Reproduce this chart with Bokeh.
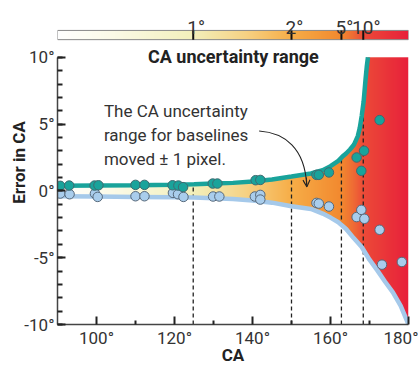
import numpy as np
from bokeh.plotting import figure
from bokeh.models import FixedTicker, Arrow, OpenHead, Range1d
from bokeh.core.properties import value
from bokeh.embed import file_html
from bokeh.resources import INLINE

# ---------------- data ----------------
upper_ca = [90, 100, 110, 120, 125, 130, 135, 140, 145, 150, 155, 158, 160, 162, 163,
            164, 165, 166, 167, 167.5, 168, 168.5, 169, 169.3, 169.6]
upper_err = [0.38, 0.4, 0.42, 0.46, 0.5, 0.55, 0.6, 0.7, 0.85, 1.07, 1.3, 1.55, 1.85, 2.25, 2.55,
             2.8, 3.1, 3.45, 4.1, 4.7, 5.6, 6.7, 8.4, 9.3, 10.0]
lower_ca = [90, 100, 110, 120, 125, 130, 135, 140, 145, 150, 155, 158, 160, 162, 164,
            166, 168, 170, 172, 174, 176, 178, 180]
lower_err = [-0.4, -0.42, -0.45, -0.48, -0.5, -0.55, -0.6, -0.72, -0.88, -1.15, -1.35, -1.7, -2.0, -2.35, -2.85,
             -3.55, -4.2, -5.15, -5.95, -6.8, -7.6, -8.6, -10.0]

upper_pts_ca = [90.7, 93.0, 99.5, 100.5, 110.0, 112.3, 119.5, 121.0, 122.2, 129.8, 131.0,
                140.8, 142.0, 156.4, 157.0, 159.6, 166.7, 167.9, 168.6, 172.6]
upper_pts_err = [0.38, 0.4, 0.4, 0.42, 0.45, 0.45, 0.42, 0.4, 0.28, 0.55, 0.55,
                 0.8, 0.82, 1.2, 1.2, 1.38, 2.5, 1.5, 3.0, 5.3]
lower_pts_ca = [90.7, 93.1, 99.6, 100.3, 110.0, 112.3, 119.6, 120.9, 122.3, 129.9, 131.5,
                140.6, 142.0, 142.0, 156.4, 157.0, 159.6, 166.7, 167.9, 168.7, 172.6, 173.2, 178.3]
lower_pts_err = [-0.2, -0.25, -0.2, -0.45, -0.4, -0.4, -0.15, -0.25, -0.45, -0.42, -0.42,
                 -0.42, -0.3, -0.65, -0.9, -0.95, -1.17, -1.96, -1.42, -2.09, -2.91, -5.52, -5.32]

range_labels = ["1°", "2°", "5°", "10°"]
range_ca = [124.8, 150.0, 162.8, 168.4]
range_top_err = [0.52, 1.07, 2.5, 6.3]

x_ticks = [100, 120, 140, 160, 180]
x_minor = [110, 130, 150, 170]
y_ticks = [-10, -5, 0, 5, 10]
y_minor = list(range(-10, 11))

note_lines = ["The CA uncertainty", "range for baselines", "moved ± 1 pixel."]

# ---------------- styles ----------------
FONT = "Roboto"
TEAL = "#19a39b"
BLUE = "#a5c9ea"
grad_stops = [(90, "#ffffff"), (105, "#fbfae6"), (124.8, "#f3f0bb"), (138, "#f6d386"),
              (150, "#f7ae48"), (162.8, "#f2892f"), (166, "#ef6a35"), (168.4, "#ec4b38"),
              (180, "#e8203b")]

def grad_rgb(xs):
    sx = [s[0] for s in grad_stops]
    rgb = np.array([[int(c[i:i + 2], 16) for i in (1, 3, 5)] for _, c in grad_stops], dtype=float)
    return np.stack([np.interp(xs, sx, rgb[:, k]) for k in range(3)], axis=1)

X0, X1 = 90, 180
Y0, Y1 = -10, 10
YTOP = 14.25

p = figure(width=418, height=367, x_range=Range1d(X0, X1), y_range=Range1d(Y0, YTOP),
           output_backend="svg", toolbar_location=None,
           min_border_left=57, min_border_right=10, min_border_top=0, min_border_bottom=42)
p.outline_line_color = None
p.xgrid.visible = False
p.ygrid.visible = False
p.background_fill_color = "white"

# gradient fill between curves
nx, ny = 704, 536
xs = X0 + (np.arange(nx) + 0.5) * (X1 - X0) / nx
ys = Y0 + (np.arange(ny) + 0.5) * (Y1 - Y0) / ny
top = np.minimum(np.interp(xs, upper_ca, upper_err), Y1)
bot = np.interp(xs, lower_ca, lower_err)
mask = (ys[:, None] >= bot[None, :]) & (ys[:, None] <= top[None, :])
rgb = grad_rgb(xs)
img = np.zeros((ny, nx), dtype=np.uint32)
v = img.view(dtype=np.uint8).reshape((ny, nx, 4))
v[..., 0] = rgb[:, 0][None, :]
v[..., 1] = rgb[:, 1][None, :]
v[..., 2] = rgb[:, 2][None, :]
v[..., 3] = (mask * 255).astype(np.uint8)
p.image_rgba(image=[img], x=X0, y=Y0, dw=X1 - X0, dh=Y1 - Y0)

# colour bar
CB_B, CB_T = 11.32, 12.01
cimg = np.zeros((1, nx), dtype=np.uint32)
cv = cimg.view(dtype=np.uint8).reshape((1, nx, 4))
cv[0, :, 0] = rgb[:, 0]
cv[0, :, 1] = rgb[:, 1]
cv[0, :, 2] = rgb[:, 2]
cv[0, :, 3] = 255
p.image_rgba(image=[cimg], x=X0, y=CB_B, dw=X1 - X0, dh=CB_T - CB_B)
p.quad(left=[X0], right=[X1], bottom=[CB_B], top=[CB_T], fill_color=None,
       line_color="#888888", line_width=1)
p.segment(x0=range_ca, x1=range_ca, y0=[CB_B] * 4, y1=[CB_T] * 4, line_color="#111111", line_width=2)
p.text(x=range_ca, y=[CB_T] * 4, text=range_labels, text_align="center", text_baseline="alphabetic",
       x_offset=3, y_offset=-3, text_font=value(FONT), text_font_size="19px", text_color="#333333")
p.text(x=[135.1], y=[10.07], text=["CA uncertainty range"], text_align="center",
       text_baseline="alphabetic", text_font=value(FONT), text_font_style="bold",
       text_font_size="18px", text_color="#222222")

# dashed verticals
p.segment(x0=range_ca, x1=range_ca, y0=[Y0] * 4, y1=range_top_err, line_color="#222222",
          line_width=1.3, line_dash="4 3")

# curves
p.line(lower_ca, lower_err, line_color=BLUE, line_width=4.5)
p.line(upper_ca, upper_err, line_color=TEAL, line_width=4.5)

# points
p.scatter(lower_pts_ca, lower_pts_err, size=9.5, fill_color="#a9cdec", line_color="#56687a", line_width=1)
p.scatter(upper_pts_ca, upper_pts_err, size=9.5, fill_color=TEAL, line_color="#3f6a70", line_width=1)

# note text + arrow
note_x = [101.9] * 3
note_y = [5.99, 4.18, 2.37]
p.text(x=note_x, y=note_y, text=note_lines, text_align="left", text_baseline="alphabetic",
       text_font=value(FONT), text_font_size="17px", text_color="#333333")
p.bezier(x0=[141.7], y0=[4.48], x1=[153.9], y1=[0.45], cx0=[148.3], cy0=[4.35],
         cx1=[153.4], cy1=[3.2], line_color="#222222", line_width=1.1)
p.add_layout(Arrow(end=OpenHead(size=7, line_width=1.1, line_color="#222222"),
                   x_start=153.8, y_start=1.0, x_end=153.95, y_end=0.3,
                   line_color="#222222", line_width=1.1))

# axes
xa = p.xaxis[0]
xa.ticker = FixedTicker(ticks=x_ticks, minor_ticks=x_minor)
xa.major_label_overrides = {t: f"{t}°" for t in x_ticks}
xa.axis_label = "CA"
ya = p.yaxis[0]
ya.ticker = FixedTicker(ticks=y_ticks, minor_ticks=y_minor)
ya.major_label_overrides = {t: f"{t}°" for t in y_ticks}
ya.bounds = (Y0, Y1)
ya.axis_label = "Error in CA"
for ax in (xa, ya):
    ax.major_tick_in = 8
    ax.major_tick_out = 0
    ax.minor_tick_in = 4
    ax.minor_tick_out = 0
    ax.major_tick_line_width = 2
    ax.minor_tick_line_width = 2
    ax.major_tick_line_color = "#222222"
    ax.minor_tick_line_color = "#222222"
    ax.axis_line_color = "#444444"
    ax.axis_line_width = 1.5
    ax.major_label_text_font = FONT
    ax.major_label_text_font_size = "17px"
    ax.major_label_text_color = "#333333"
    ax.axis_label_text_font = FONT
    ax.axis_label_text_font_style = "bold"
    ax.axis_label_text_font_size = "17px"
    ax.axis_label_text_color = "#222222"
xa.major_label_standoff = 3
xa.axis_label_standoff = -6
ya.major_label_standoff = 3
ya.axis_label_standoff = -8
ya.minor_tick_in = 5

open("out.html", "w").write(file_html(p, INLINE))
